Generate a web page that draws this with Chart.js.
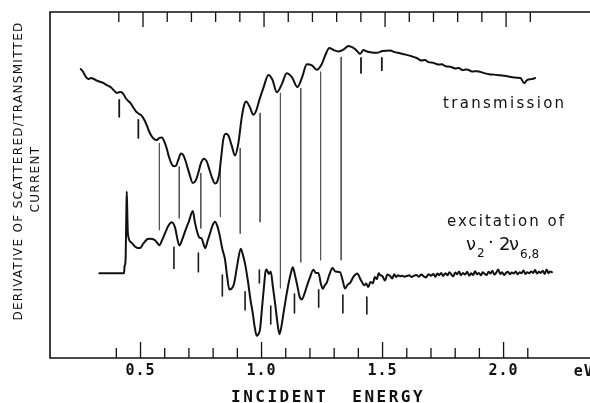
<!DOCTYPE html>
<html><head><meta charset="utf-8">
<script src="https://cdn.jsdelivr.net/npm/chart.js@4"></script>
<style>html,body{margin:0;padding:0;background:#fff;overflow:hidden}canvas{display:block}</style>
</head><body>
<canvas id="c" width="590" height="403"></canvas>
<script>
// ---------- DATA ----------
// x = incident energy (eV); y = derivative signal, arbitrary units (0 = bottom frame, 100 = top frame)
const transE = [0.253,0.262,0.272,0.284,0.295,0.305,0.318,0.33,0.346,0.36,0.372,0.381,0.392,0.402,0.41,0.419,0.429,0.44,0.449,0.457,0.469,0.481,0.493,0.505,0.516,0.526,0.536,0.546,0.556,0.567,0.578,0.588,0.598,0.608,0.618,0.629,0.638,0.647,0.657,0.667,0.677,0.688,0.702,0.716,0.728,0.739,0.75,0.762,0.773,0.784,0.796,0.808,0.817,0.826,0.834,0.842,0.852,0.863,0.877,0.89,0.904,0.918,0.927,0.936,0.951,0.966,0.978,0.991,1.01,1.028,1.045,1.063,1.083,1.104,1.126,1.148,1.167,1.187,1.208,1.228,1.249,1.265,1.28,1.298,1.317,1.34,1.359,1.372,1.386,1.396,1.407,1.421,1.435,1.455,1.476,1.5,1.531,1.55,1.572,1.6,1.62,1.641,1.66,1.675,1.69,1.71,1.73,1.745,1.76,1.779,1.8,1.815,1.83,1.848,1.87,1.89,1.917,1.94,1.96,1.986,2.01,2.03,2.055,2.07,2.085,2.094,2.102,2.115,2.13];
const transV = [83.5,82.8,81.5,80.6,80.9,80.7,80.2,79.9,79.5,78.9,78.5,78.0,77.2,76.6,76.8,76.9,76.3,75.0,74.3,73.8,72.5,71.3,70.6,70.0,68.8,67.2,65.4,64.1,63.3,63.0,63.6,63.7,62.6,60.6,58.0,56.0,55.4,55.6,57.5,59.1,58.6,56.5,53.2,50.6,51.3,53.6,56.4,57.6,56.9,54.6,52.0,50.4,51.0,53.6,58.5,63.2,64.8,64.3,61.3,58.5,62.0,69.5,72.8,74.1,72.6,70.3,71.5,74.6,78.6,81.8,80.4,76.8,79.0,82.3,81.1,78.3,81.0,84.9,84.6,83.3,85.0,87.8,89.6,89.0,88.6,89.2,90.2,89.9,89.3,88.6,87.9,89.0,88.6,88.3,88.2,88.7,88.9,88.4,88.1,87.6,87.2,86.7,86.0,86.1,85.5,85.3,84.8,84.9,84.3,84.2,83.7,83.8,83.2,83.4,82.8,82.9,82.4,82.0,81.9,81.7,81.5,81.2,81.0,80.9,79.4,80.1,80.5,80.6,80.9];

const excE = [0.330,0.432,0.434,0.438,0.441,0.443,0.445,0.447,0.450,0.454,0.465,0.477,0.488,0.498,0.509,0.519,0.529,0.539,0.550,0.560,0.570,0.578,0.590,0.601,0.615,0.629,0.643,0.652,0.660,0.672,0.684,0.700,0.716,0.724,0.732,0.743,0.753,0.760,0.767,0.777,0.787,0.798,0.808,0.817,0.826,0.838,0.849,0.858,0.867,0.876,0.886,0.900,0.914,0.923,0.932,0.945,0.955,0.964,0.972,0.980,0.988,0.994,1.002,1.010,1.016,1.021,1.030,1.038,1.047,1.056,1.065,1.074,1.083,1.093,1.102,1.111,1.120,1.129,1.138,1.148,1.157,1.166,1.176,1.187,1.200,1.214,1.224,1.235,1.245,1.253,1.261,1.269,1.280,1.293,1.305,1.324,1.335,1.345,1.356,1.366,1.380,1.396,1.407,1.416,1.424,1.432,1.441,1.450,1.460,1.468,1.476,1.484,1.490,1.500,1.510,1.520,1.531,1.540,1.548,1.556,1.564,1.572,1.580,1.590,1.600,1.610,1.620,1.630,1.640,1.650,1.660,1.670,1.680,1.690,1.700,1.710,1.718,1.726,1.734,1.742,1.750,1.760,1.768,1.776,1.784,1.792,1.800,1.808,1.816,1.824,1.832,1.840,1.850,1.858,1.866,1.874,1.882,1.890,1.898,1.906,1.914,1.922,1.930,1.938,1.946,1.954,1.962,1.970,1.978,1.986,1.994,2.002,2.010,2.018,2.026,2.034,2.042,2.050,2.058,2.066,2.074,2.082,2.090,2.098,2.106,2.114,2.122,2.130,2.138,2.146,2.154,2.162,2.170,2.178,2.186,2.192,2.200];
const excV = [24.5,24.5,26.5,28.0,40.0,48.1,43.0,37.0,35.0,34.0,33.2,32.2,31.8,31.8,32.8,33.7,34.4,34.5,34.4,34.0,33.2,32.6,34.2,36.0,38.2,39.2,37.6,34.5,32.5,34.2,36.6,39.5,42.5,39.5,37.0,34.8,34.5,33.0,31.7,33.8,36.0,38.4,39.4,38.2,35.8,31.5,28.5,23.5,19.8,20.0,21.4,27.0,31.6,29.8,27.2,21.6,16.5,12.8,8.8,6.4,7.0,8.4,14.5,20.6,24.8,25.6,24.3,25.0,20.5,15.8,10.5,6.9,9.5,14.0,17.8,21.3,24.2,26.2,24.0,20.8,17.8,16.9,18.3,20.7,23.3,25.5,24.6,24.6,21.5,20.0,21.0,21.7,24.0,26.0,25.0,24.8,22.5,20.1,21.2,21.7,23.5,24.4,23.0,21.8,21.0,21.5,20.5,22.0,21.6,23.4,22.8,24.5,24.0,23.6,22.4,24.1,23.7,23.0,24.2,23.4,23.9,23.6,23.8,23.5,23.7,23.9,23.4,23.8,24.0,23.5,24.1,23.6,23.3,24.2,23.8,24.3,23.5,24.4,23.9,24.6,23.7,24.5,23.9,24.8,24.1,23.6,24.7,24.2,25.0,23.9,24.6,24.1,24.9,23.8,24.5,24.0,25.1,24.2,24.6,23.9,24.8,24.3,24.0,24.9,24.4,25.2,24.1,24.7,25.6,24.3,24.8,24.0,24.6,24.9,24.2,24.7,24.4,25.0,24.2,24.8,24.5,25.3,24.3,24.8,24.5,25.0,24.6,25.4,24.4,24.9,24.6,25.2,24.3,25.6,24.5,25.0,24.8];

// marker lines: energy, upper end, lower end
const transTickE   = [0.412, 0.491, 1.411, 1.497];
const transTickTop = [74.6, 68.8, 86.7, 86.7];
const transTickBot = [69.7, 63.6, 82.4, 83.2];

const linkE   = [0.578, 0.660, 0.749, 0.830, 0.912, 0.994, 1.078, 1.162, 1.244, 1.329];
const linkTop = [62.1, 55.3, 53.4, 54.8, 60.6, 70.8, 76.6, 78.0, 82.7, 87.0];
const linkBot = [37.0, 40.4, 37.5, 40.8, 36.0, 39.3, 20.2, 27.7, 28.3, 28.3];

const excTickE   = [0.638, 0.739, 0.838, 0.932, 0.991, 1.038, 1.136, 1.236, 1.336, 1.435];
const excTickTop = [32.0, 30.3, 24.0, 19.1, 25.4, 15.0, 18.5, 19.7, 18.2, 17.6];
const excTickBot = [25.9, 24.9, 17.9, 13.9, 21.7, 9.8, 13.0, 14.7, 13.0, 12.7];

// axis
const tickValues = [0.4,0.5,0.6,0.7,0.8,0.9,1.0,1.1,1.2,1.3,1.4,1.5,1.6,1.7,1.8,1.9,2.0,2.1];
const majorTickValues = [0.5,1.0,1.5,2.0];
const tickLabels = ['0.5','1.0','1.5','2.0'];
const unitLabel = 'eV';
const xTitle = 'INCIDENT  ENERGY';
const yTitle = ['DERIVATIVE OF SCATTERED/TRANSMITTED', 'CURRENT'];
const curveLabels = ['transmission', 'excitation of'];

// ---------- CHART ----------
const INK = '#111';
function pts(xs, ys){ return xs.map((x,i)=>({x:x, y:ys[i]})); }
function segs(es, tops, bots, color, width){
  return es.map((e,i)=>({data:[{x:e,y:tops[i]},{x:e,y:bots[i]}], borderColor:color, borderWidth:width, pointRadius:0, tension:0}));
}

const datasets = [
  {label:'transmission', data:pts(transE, transV), borderColor:INK, borderWidth:2, pointRadius:0, cubicInterpolationMode:'monotone'},
  {label:'excitation', data:pts(excE, excV), borderColor:INK, borderWidth:2, pointRadius:0, cubicInterpolationMode:'monotone'},
  ...segs(linkE, linkTop, linkBot, '#555', 1),
  ...segs(transTickE, transTickTop, transTickBot, '#1a1a1a', 1.8),
  ...segs(excTickE, excTickTop, excTickBot, '#1a1a1a', 1.6)
];

const framePlugin = {
  id:'frame',
  beforeDraw(chart){ chart.ctx.letterSpacing = '1px'; },
  beforeDatasetsDraw(chart){
    const ctx = chart.ctx, a = chart.chartArea, xs = chart.scales.x;
    ctx.letterSpacing = '0px';
    ctx.save();
    ctx.strokeStyle = INK; ctx.lineWidth = 1.6; ctx.lineCap = 'butt';
    ctx.beginPath();
    ctx.moveTo(a.left, a.top); ctx.lineTo(a.left, a.bottom);
    ctx.moveTo(a.left - 0.8, a.top); ctx.lineTo(a.right, a.top);
    ctx.moveTo(a.left - 0.8, a.bottom); ctx.lineTo(a.right, a.bottom);
    ctx.stroke();
    ctx.lineWidth = 1.3;
    ctx.beginPath();
    tickValues.forEach(v=>{
      const major = majorTickValues.includes(v);
      const px = xs.getPixelForValue(v);
      ctx.moveTo(px, a.bottom); ctx.lineTo(px, a.bottom - (major ? 16 : 10));
      const pt = px + 2.5;
      ctx.moveTo(pt, a.top); ctx.lineTo(pt, a.top + (major ? 15 : 10));
    });
    ctx.stroke();
    ctx.restore();
  },
  afterDraw(chart){
    const ctx = chart.ctx, xs = chart.scales.x;
    ctx.save();
    ctx.fillStyle = INK;
    // y title
    ctx.font = '12px "DejaVu Sans"';
    ctx.letterSpacing = '1.3px';
    ctx.textAlign = 'center'; ctx.textBaseline = 'middle';
    ctx.save(); ctx.translate(19, 171); ctx.rotate(-Math.PI/2); ctx.fillText(yTitle[0], 0, 0); ctx.restore();
    ctx.save(); ctx.translate(36, 179); ctx.rotate(-Math.PI/2); ctx.fillText(yTitle[1], 0, 0); ctx.restore();
    // x title
    ctx.font = 'bold 16px "DejaVu Sans Mono"';
    ctx.letterSpacing = '2.5px';
    ctx.textAlign = 'left'; ctx.textBaseline = 'alphabetic';
    ctx.fillText(xTitle, 231, 402);
    // unit
    ctx.font = 'bold 15px "DejaVu Sans Mono"';
    ctx.letterSpacing = '1px';
    ctx.fillText(unitLabel, xs.getPixelForValue(2.29), 376);
    // curve labels
    ctx.font = '15px "DejaVu Sans"';
    ctx.letterSpacing = '2.3px';
    ctx.fillText(curveLabels[0], 443, 108);
    ctx.letterSpacing = '2px';
    ctx.fillText(curveLabels[1], 447, 226);
    ctx.letterSpacing = '0px';
    ctx.font = '18px "DejaVu Sans"';
    ctx.fillText('\u03BD', 466, 250);
    ctx.fillText('\u00B7', 488, 248);
    ctx.fillText('2', 499, 250);
    ctx.fillText('\u03BD', 509, 250);
    ctx.font = '12px "DejaVu Sans"';
    ctx.fillText('2', 477, 257);
    ctx.fillText('6,8', 520, 258);
    ctx.restore();
  }
};

new Chart(document.getElementById('c'), {
  type:'line',
  data:{datasets},
  options:{
    responsive:false, animation:false, events:[],
    layout:{padding:{left:50, right:0, top:12, bottom:0}},
    plugins:{legend:{display:false}, tooltip:{enabled:false}},
    elements:{point:{radius:0}, line:{borderCapStyle:'round', borderJoinStyle:'round'}},
    scales:{
      x:{type:'linear', min:0.126, max:2.357,
         grid:{display:false, drawTicks:false}, border:{display:false},
         afterBuildTicks:(s)=>{ s.ticks = majorTickValues.map(v=>({value:v})); },
         ticks:{autoSkip:false, maxRotation:0, minRotation:0, padding:4, color:INK,
                font:{family:'"DejaVu Sans Mono"', size:15, weight:'bold'},
                callback:(v,i)=>tickLabels[i]},
         afterFit:(s)=>{ s.height = 45; }},
      y:{display:false, min:0, max:100}
    }
  },
  plugins:[framePlugin]
});
</script>
</body></html>
